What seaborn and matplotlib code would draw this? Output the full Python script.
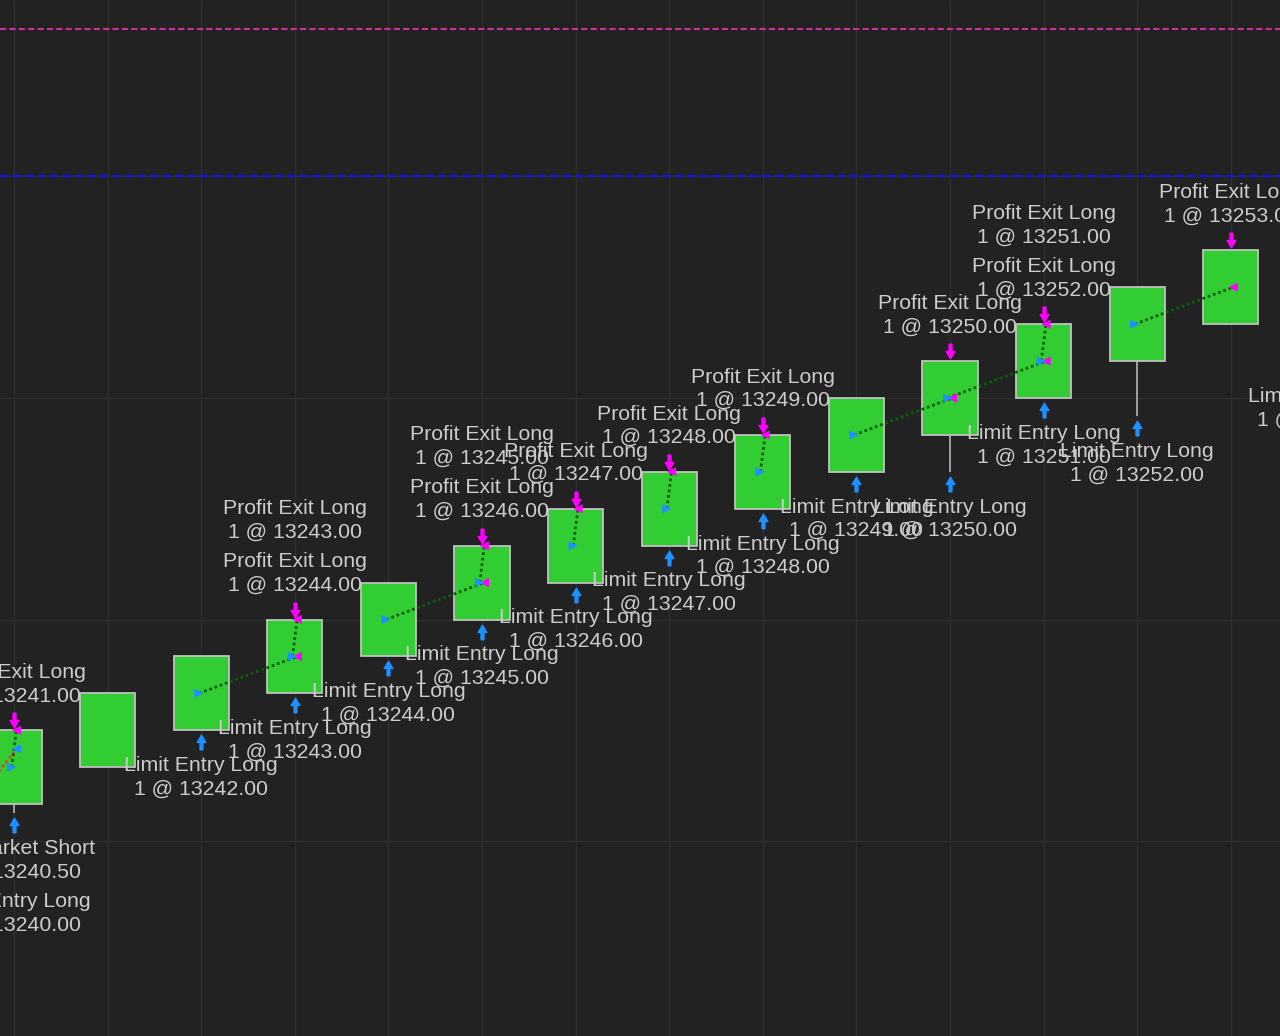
import numpy as np
import pandas as pd
import matplotlib.pyplot as plt
import matplotlib.transforms as mtransforms
import seaborn as sns
from matplotlib.path import Path

sns.set_theme(style="dark")
plt.rcParams['font.family'] = ['Liberation Sans', 'DejaVu Sans']

# Bars (index, open, close, high, low)
bars = [-1, 0, 1, 2, 3, 4, 5, 6, 7, 8, 9, 10, 11, 12, 13, 14]
opens = [13236, 13239, 13240, 13241, 13242, 13243, 13244, 13245, 13246, 13247, 13248, 13249, 13250, 13251, 13252, 13253]
closes = [13238, 13241, 13242, 13243, 13244, 13245, 13246, 13247, 13248, 13249, 13250, 13251, 13252, 13253, 13254, 13255]
highs = [13238, 13241, 13242, 13243, 13244, 13245, 13246, 13247, 13248, 13249, 13250, 13251, 13252, 13253, 13254, 13255]
lows = [13236, 13238.75, 13240, 13241, 13242, 13243, 13244, 13245, 13246, 13247, 13248, 13248, 13250, 13249.5, 13252, 13251]

# Executions in time order (bar, price, name)
exec_bar = [0, 0, 0, 2, 3, 3, 3, 4, 5, 5, 5, 6, 6, 7, 7, 8, 8, 9, 10, 10, 11, 11, 11, 12, 13, 14]
exec_price = [13240.0, 13240.5, 13241.0, 13242, 13243, 13243, 13244, 13244, 13245, 13245, 13246,
              13246, 13247, 13247, 13248, 13248, 13249, 13249, 13250, 13250, 13251, 13251, 13252,
              13252, 13253, 13253]
exec_name = ["Limit Entry Long", "Exit Market Short", "Profit Exit Long",
             "Limit Entry Long", "Profit Exit Long", "Limit Entry Long", "Profit Exit Long",
             "Limit Entry Long", "Profit Exit Long", "Limit Entry Long", "Profit Exit Long",
             "Limit Entry Long", "Profit Exit Long", "Limit Entry Long", "Profit Exit Long",
             "Limit Entry Long", "Profit Exit Long", "Limit Entry Long",
             "Profit Exit Long", "Limit Entry Long",
             "Profit Exit Long", "Limit Entry Long", "Profit Exit Long",
             "Limit Entry Long", "Profit Exit Long", "Limit Entry Long"]
exec_side = ["buy" if "Entry" in n or "Short" in n else "sell" for n in exec_name]
exec_kind = ["entry" if "Entry" in n else "exit" for n in exec_name]

# Trades (entry bar, entry price, exit bar, exit price, winner?)
trade_in_bar = [-1, 0, 2, 3, 4, 5, 6, 7, 8, 9, 10, 11, 12]
trade_in_price = [13237, 13240, 13242, 13243, 13244, 13245, 13246, 13247, 13248, 13249, 13250, 13251, 13252]
trade_out_bar = [0, 0, 3, 3, 5, 5, 6, 7, 8, 10, 11, 11, 13]
trade_out_price = [13240.5, 13241, 13243, 13244, 13245, 13246, 13247, 13248, 13249, 13250, 13251, 13252, 13253]
trade_win = [False] + [True] * 12

# Horizontal reference lines
upper_line = 13260
lower_line = 13256

BG = "#222222"
TXT = "#cccccc"
BLUE = "#1e90ff"
MAG = "#ff00ff"

fig = plt.figure(figsize=(12.8, 10.36), dpi=100, facecolor=BG)
ax = fig.add_axes([0, 0, 1, 1])
ax.set_facecolor(BG)

ax.axhline(upper_line, color="#c8309a", linestyle=(0, (3, 1.5)), linewidth=1.5)
ax.axhline(lower_line, color="#1010ff", linestyle=(0, (4, 2)), linewidth=1.5)

# candles
df = pd.DataFrame({"bar": bars, "open": opens, "close": closes, "high": highs, "low": lows})
ax.vlines(df["bar"], df["low"], df["high"], color="#a8a8a8", linewidth=1.3, zorder=2)
ax.bar(df["bar"], df["close"] - df["open"], bottom=df["open"], width=0.59,
       color="#32cd32", edgecolor="#c0c0c0", linewidth=1.3, zorder=3)

# trade lines
dx = 0.025
for ib, ip, ob, op, w in zip(trade_in_bar, trade_in_price, trade_out_bar, trade_out_price, trade_win):
    ax.plot([ib - dx, ob + dx], [ip, op], color="#0a5f0a" if w else "#d04848",
            linestyle=(0, (1, 1)), linewidth=2, zorder=4)

# execution markers
ex = pd.DataFrame({"bar": exec_bar, "price": exec_price, "name": exec_name,
                   "side": exec_side, "kind": exec_kind})
ex["x"] = ex["bar"] + np.where(ex["kind"] == "entry", -dx, dx)
sns.scatterplot(data=ex, x="x", y="price", hue="side", style="kind",
                palette={"buy": BLUE, "sell": MAG}, markers={"entry": ">", "exit": "<"},
                s=45, linewidth=0, legend=False, ax=ax, zorder=5)

# arrows
up_arrow = Path([(-0.2, -1), (0.2, -1), (0.2, 0), (0.6, 0), (0, 1), (-0.6, 0), (-0.2, 0), (-0.2, -1)],
                [Path.MOVETO] + [Path.LINETO] * 6 + [Path.CLOSEPOLY])
down_arrow = Path([(x, -y) for x, y in up_arrow.vertices], up_arrow.codes)

hi = dict(zip(bars, highs))
lo = dict(zip(bars, lows))
above = {}
below = {}
for b, p, n, sd in zip(exec_bar, exec_price, exec_name, exec_side):
    (below if sd == "buy" else above).setdefault(b, []).append(f"{n}\n1 @ {p:.2f}")

shift_up = ax.transData + mtransforms.ScaledTranslation(0, 10 / 100, fig.dpi_scale_trans)
shift_dn = ax.transData + mtransforms.ScaledTranslation(0, -12 / 100, fig.dpi_scale_trans)

for b, labels in above.items():
    ax.plot(b, hi[b], marker=down_arrow, markersize=10.5, color=MAG, linestyle="none",
            transform=shift_up, zorder=6)
    n = len(labels)
    for k, lab in enumerate(labels):
        ax.annotate(lab, (b, hi[b]), xytext=(0, 46 + 53 * (n - 1 - k)), textcoords="offset pixels",
                    ha="center", va="center", color=TXT, fontsize=15.3, linespacing=1.3,
                    annotation_clip=False, zorder=7)

for b, labels in below.items():
    ax.plot(b, lo[b], marker=up_arrow, markersize=10.5, color=BLUE, linestyle="none",
            transform=shift_dn, zorder=6)
    n = len(labels)
    for k, lab in enumerate(labels):
        ax.annotate(lab, (b, lo[b]), xytext=(0, -(47 + 53 * (n - 1 - k))), textcoords="offset pixels",
                    ha="center", va="center", color=TXT, fontsize=15.3, linespacing=1.3,
                    annotation_clip=False, zorder=7)

ax.set_xticks(bars)
ax.set_yticks([13238, 13244, 13250, 13256])
ax.tick_params(length=0, labelbottom=False, labelleft=False)
ax.grid(True, color="#2e2e2e", linewidth=1)
for s in ax.spines.values():
    s.set_visible(False)
ax.set_xlim(-0.15, 13.526)
ax.set_ylim(13232.72, 13260.78)

fig.savefig("out.png", dpi=100, facecolor=BG)
